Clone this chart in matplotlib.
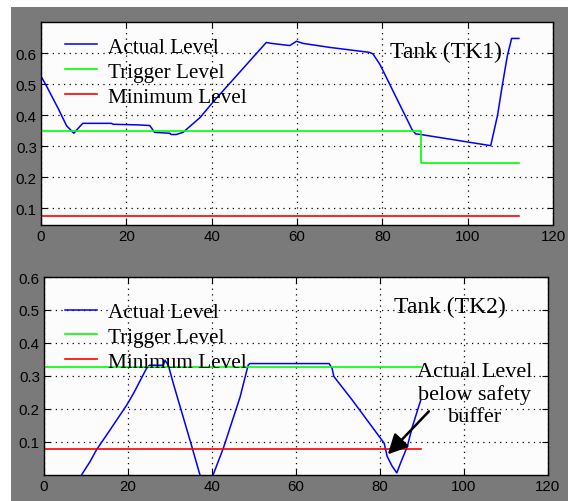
import numpy as np
from matplotlib import pyplot as plt
from matplotlib.patches import Rectangle

# tank TK1 (top panel)
tk1_x = [0, 1.3, 4.1, 6.0, 7.7, 8.7, 9.8, 16.5, 16.9, 22.7, 25.5, 26.6, 30.2, 30.5, 31.7, 33.3,
         34.8, 37.3, 40.4, 52.8, 54.0, 58.3, 59.9, 61.4, 67.7, 77.0, 77.8, 79.4, 87.0, 87.8, 89.0,
         105.4, 107.0, 108.1, 109.3, 110.3, 112.0]
tk1_level = [0.526, 0.494, 0.42, 0.366, 0.342, 0.358, 0.374, 0.374, 0.371, 0.369, 0.367, 0.345,
             0.342, 0.338, 0.338, 0.345, 0.363, 0.393, 0.444, 0.635, 0.632, 0.625, 0.639, 0.632,
             0.619, 0.603, 0.598, 0.565, 0.353, 0.34, 0.338, 0.302, 0.40, 0.495, 0.592, 0.648, 0.648]
tk1_trig_x = [0, 89.0, 89.0, 112.0]
tk1_trig = [0.348, 0.348, 0.245, 0.245]
tk1_min_x = [0, 112.0]
tk1_min = [0.074, 0.074]

# tank TK2 (bottom panel)
tk2_x = [9.0, 11.0, 12.5, 14.1, 15.7, 19.7, 21.3, 24.4, 25.1, 28.4, 28.8, 29.6, 30.8, 35.2, 37.1,
         38.7, 40.3, 42.7, 46.7, 48.6, 49.0, 67.9, 68.6, 69.0, 73.4, 81.0, 81.7, 82.9, 84.0, 84.9,
         86.5, 87.7, 89.7]
tk2_level = [0.0, 0.04, 0.075, 0.105, 0.135, 0.211, 0.246, 0.322, 0.332, 0.332, 0.347, 0.332,
             0.276, 0.085, 0.0, -0.03, 0.0, 0.08, 0.236, 0.332, 0.337, 0.337, 0.322, 0.298,
             0.226, 0.095, 0.055, 0.025, 0.005, 0.035, 0.085, 0.145, 0.226]
tk2_trig_x = [0, 89.7]
tk2_trig = [0.326, 0.326]
tk2_min_x = [0, 89.7]
tk2_min = [0.078, 0.078]

x_ticks = [0, 20, 40, 60, 80, 100, 120]
y_ticks = [0.1, 0.2, 0.3, 0.4, 0.5, 0.6]
labels = ['Actual Level', 'Trigger Level', 'Minimum Level']

serif = 'Liberation Serif'
plt.rcParams['font.family'] = 'Liberation Sans'

fig = plt.figure(figsize=(5.68, 5.02), dpi=100, facecolor='white')
fig.patches.append(Rectangle((11/568, 0), 1 - 11/568, 1 - 8/502, transform=fig.transFigure,
                             facecolor='#7a7a7a', edgecolor='none', zorder=-10))

ax1 = fig.add_axes([41/568, 1 - 226/502, 512/568, 203/502])
ax2 = fig.add_axes([44/568, 1 - 475.5/502, 504/568, 197.5/502])


def style(ax, ylim):
    ax.set_facecolor('#fcfcfc')
    ax.set_xlim(0, 120)
    ax.set_ylim(*ylim)
    ax.set_xticks(x_ticks)
    ax.set_yticks(y_ticks)
    ax.set_yticklabels([f'{v:.1f}' for v in y_ticks])
    ax.grid(True, ls=(0, (1, 3.5)), color='black', lw=0.9)
    ax.tick_params(direction='in', length=4, width=0.8, top=True, right=True,
                   labelsize=10.8, pad=3, colors='black')
    for s in ax.spines.values():
        s.set_linewidth(1.0)
        s.set_color('black')


leg_kw = dict(loc='upper left', frameon=False, prop={'family': serif, 'size': 15.3},
              handlelength=1.5, handletextpad=0.52, labelspacing=0.24,
              borderpad=0, borderaxespad=0)

style(ax1, (0.046, 0.701))
ax1.plot(tk1_x, tk1_level, color='#0000ff', lw=1.1, label=labels[0])
ax1.plot(tk1_trig_x, tk1_trig, color='#00ff00', lw=1.2, label=labels[1])
ax1.plot(tk1_min_x, tk1_min, color='#ff0000', lw=1.2, label=labels[2])
ax1.legend(bbox_to_anchor=(0.047, 0.927), **leg_kw)
ax1.text(94.9, 0.606, 'Tank (TK1)', family=serif, fontsize=17, ha='center', va='center')

style(ax2, (0, 0.6))
ax2.plot(tk2_x, tk2_level, color='#0000ff', lw=1.1, label=labels[0])
ax2.plot(tk2_trig_x, tk2_trig, color='#00ff00', lw=1.2, label=labels[1])
ax2.plot(tk2_min_x, tk2_min, color='#ff0000', lw=1.2, label=labels[2])
ax2.legend(bbox_to_anchor=(0.042, 0.873), **leg_kw)
ax2.text(96.6, 0.511, 'Tank (TK2)', family=serif, fontsize=17, ha='center', va='center')
ax2.text(102.6, 0.244, 'Actual Level\nbelow safety\nbuffer', family=serif, fontsize=16,
         ha='center', va='center', linespacing=1.2)
ax2.annotate('', xy=(81.4, 0.055), xytext=(92.1, 0.198),
             arrowprops=dict(arrowstyle='-|>', color='black', lw=1.8, mutation_scale=30))

plt.savefig('out.png', dpi=100)
